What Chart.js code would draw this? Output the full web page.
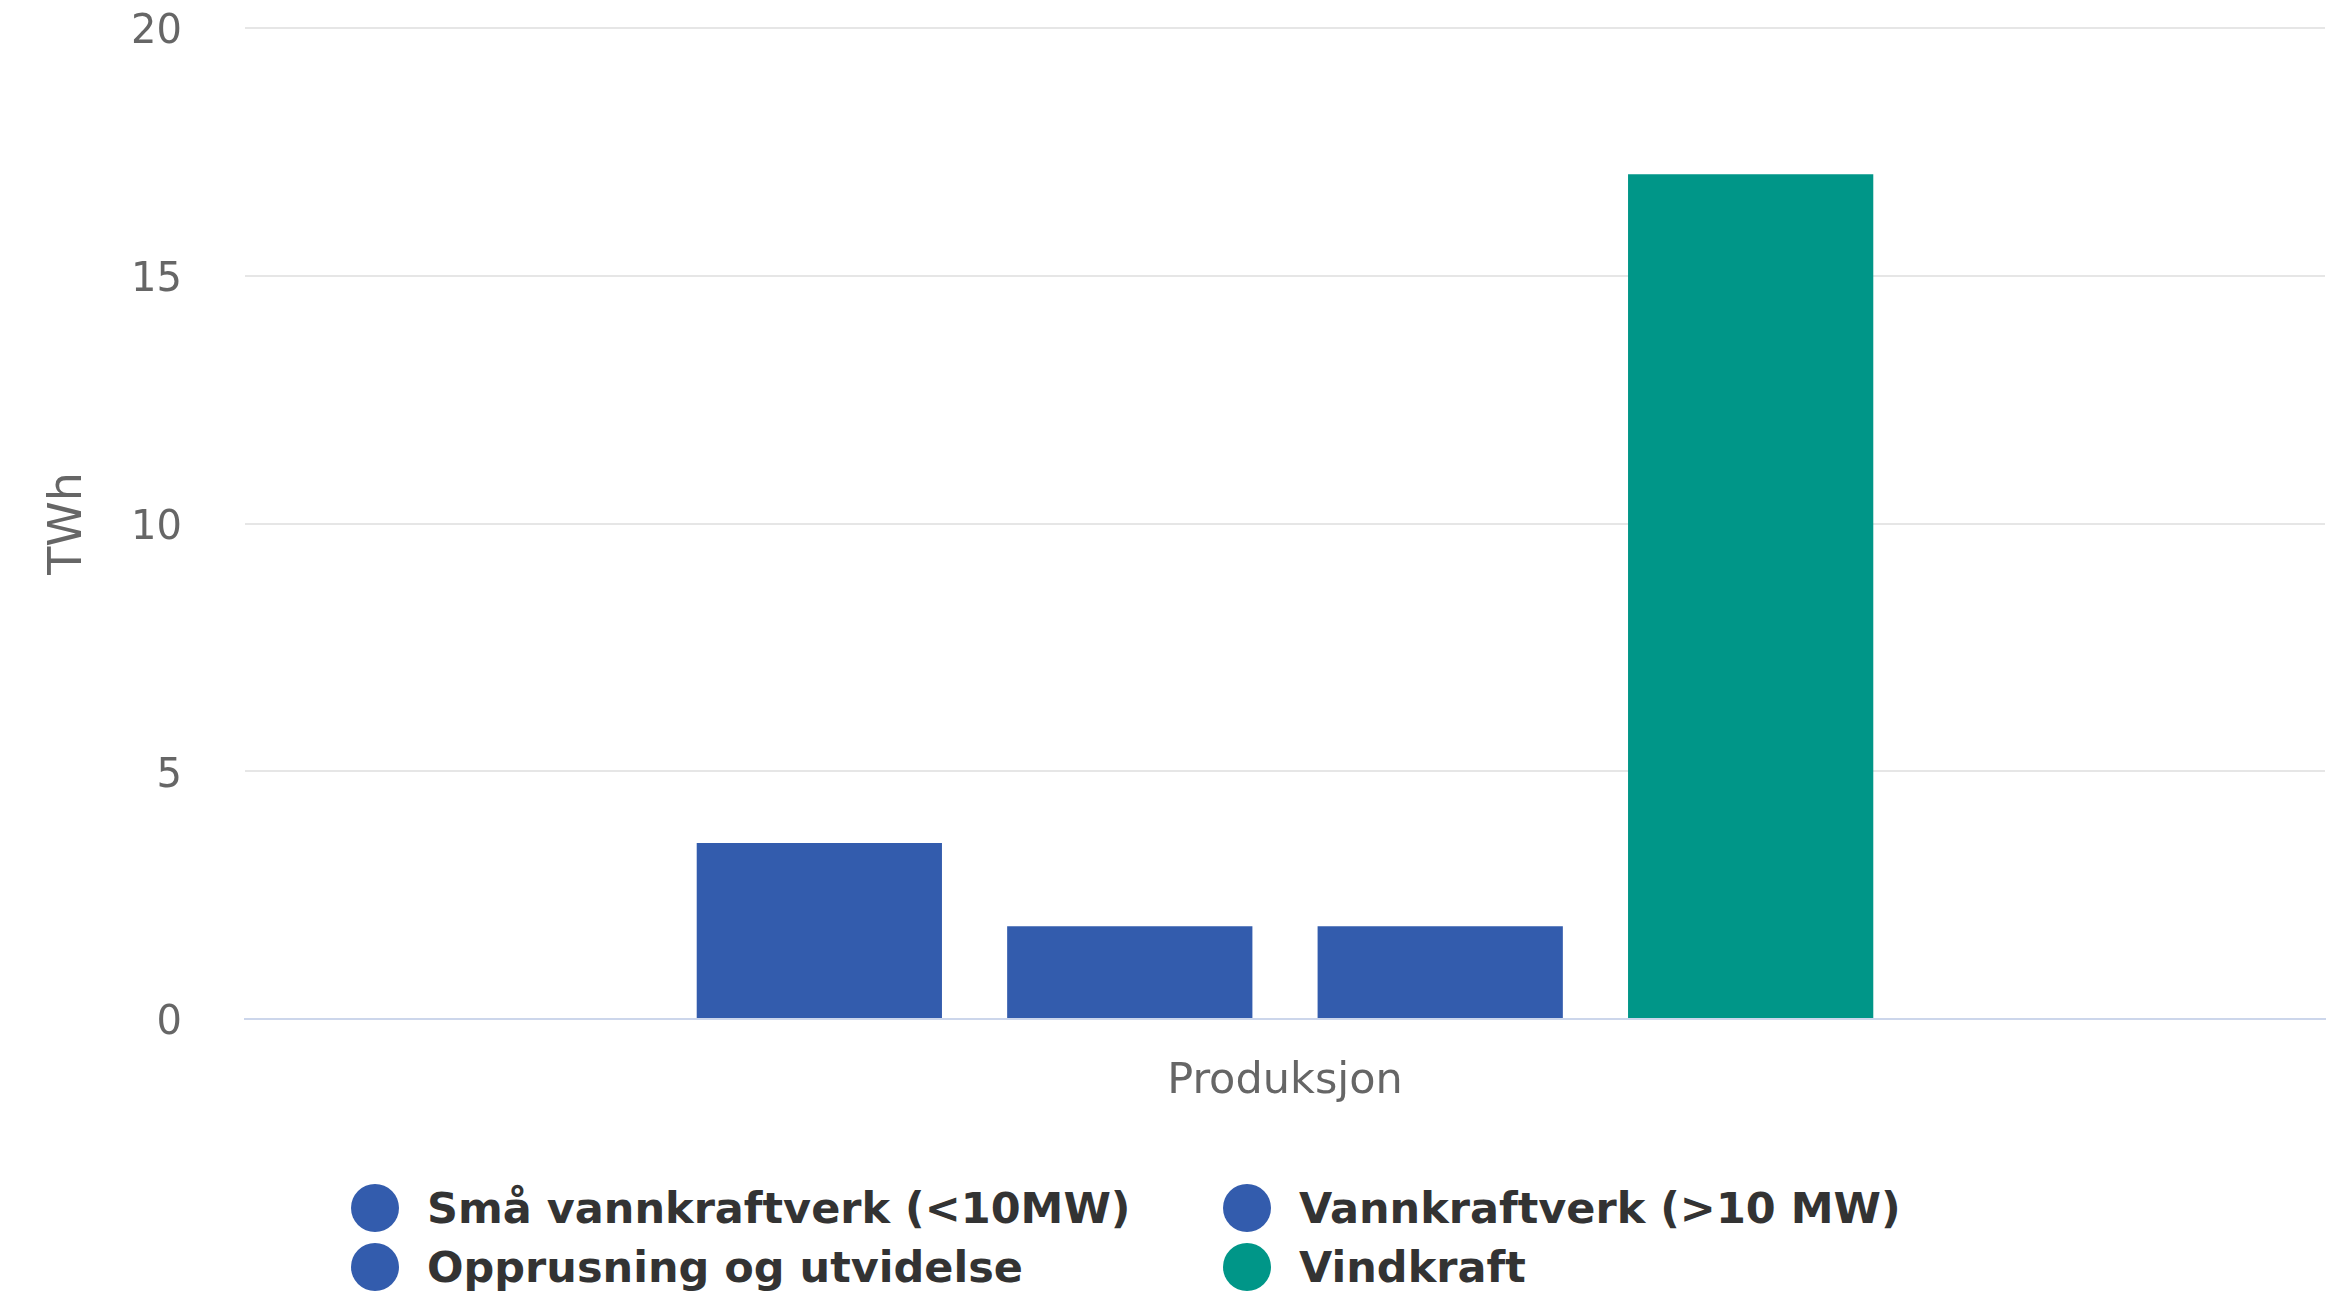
<!DOCTYPE html>
<html>
<head>
<meta charset="utf-8">
<script src="https://cdn.jsdelivr.net/npm/chart.js@4/dist/chart.umd.min.js"></script>
<style>
  html, body { margin: 0; padding: 0; background: #fff; }
  #wrap { position: absolute; left: 0; top: 0; width: 2341px; height: 1130px; }
  #legend { position: absolute; left: 0; top: 1178px; width: 2341px; font-family: "DejaVu Sans", sans-serif;
            font-weight: bold; font-size: 43px; color: #333; }
  .item { position: absolute; height: 59px; display: flex; align-items: center; white-space: nowrap; }
  .dot { width: 48px; height: 48px; border-radius: 50%; margin-right: 28px; flex: none; }
</style>
</head>
<body>
<div id="wrap"><canvas id="barChart"></canvas></div>
<div id="legend"></div>
<script>
// data
var categories = ['Produksjon'];
var series_names = ['Små vannkraftverk (<10MW)', 'Vannkraftverk (>10 MW)', 'Opprusning og utvidelse', 'Vindkraft'];
var series_values = [3.55, 1.87, 1.87, 17.05];
var series_colors = ['#335cad', '#335cad', '#335cad', '#009688'];
var y_ticks = [0, 5, 10, 15, 20];

var datasets = [];
for (var i = 0; i < series_names.length; i++) {
  datasets.push({
    label: series_names[i],
    data: [series_values[i]],
    backgroundColor: series_colors[i],
    borderWidth: 0,
    categoryPercentage: 0.597,
    barPercentage: 0.79
  });
}

var ctx = document.getElementById('barChart').getContext('2d');
var chart = new Chart(ctx, {
  type: 'bar',
  data: { labels: categories, datasets: datasets },
  options: {
    responsive: true,
    maintainAspectRatio: false,
    animation: false,
    layout: { padding: { top: 28, right: 16, left: 0, bottom: 0 } },
    plugins: { legend: { display: false }, tooltip: { enabled: false } },
    scales: {
      x: {
        grid: { display: false },
        border: { display: true, color: '#ccd6eb', width: 2 },
        ticks: { color: '#666', padding: 29, font: { family: 'DejaVu Sans', size: 43 } },
        afterFit: function (scale) { scale.height = 1130 - 1019; }
      },
      y: {
        min: 0,
        max: 20,
        afterBuildTicks: function (scale) {
          scale.ticks = y_ticks.map(function (v) { return { value: v }; });
        },
        grid: { color: '#e6e6e6', lineWidth: 2, drawTicks: false },
        border: { display: false },
        ticks: { color: '#666', padding: 63, labelOffset: 5, font: { family: 'DejaVu Sans', size: 40 } },
        title: {
          display: true,
          text: 'TWh',
          color: '#666',
          padding: { top: 41, bottom: 0 },
          font: { family: 'DejaVu Sans', size: 46 }
        },
        afterFit: function (scale) {
          scale.width = 245;
          scale.paddingTop = 0;
          scale.paddingBottom = 0;
        }
      }
    }
  }
});

// legend in two columns, built from the datasets
var legend = document.getElementById('legend');
var colX = [351, 1223];
chart.data.datasets.forEach(function (ds, i) {
  var item = document.createElement('div');
  item.className = 'item';
  item.style.left = colX[i % 2] + 'px';
  item.style.top = (Math.floor(i / 2) * 59) + 'px';
  var dot = document.createElement('span');
  dot.className = 'dot';
  dot.style.background = ds.backgroundColor;
  var txt = document.createElement('span');
  txt.textContent = ds.label;
  item.appendChild(dot);
  item.appendChild(txt);
  legend.appendChild(item);
});
</script>
</body>
</html>
